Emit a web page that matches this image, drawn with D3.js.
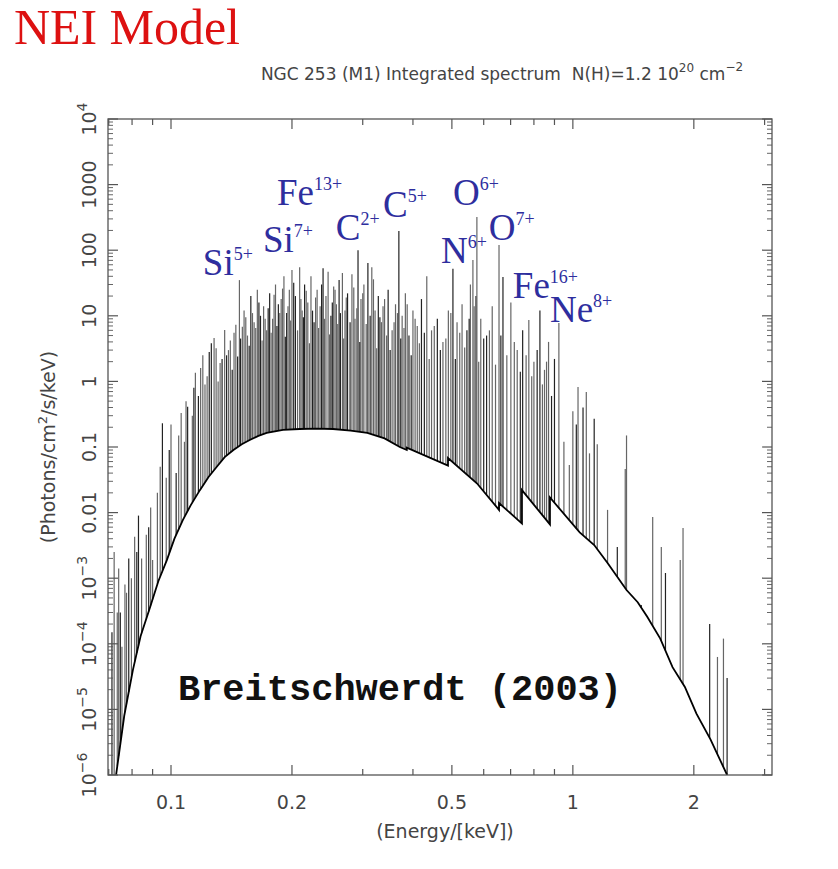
<!DOCTYPE html>
<html>
<head>
<meta charset="utf-8">
<script src="https://cdn.jsdelivr.net/npm/d3@7"></script>
<style>
  body { margin: 0; background: #fff; }
  svg text { font-family: "DejaVu Sans", sans-serif; }
</style>
</head>
<body>
<div id="chart"></div>
<script>
// Continuum (energy keV, flux); repeated energies are absorption edges
const contE = [0.0730, 0.0765, 0.0804, 0.0840, 0.0887, 0.0930, 0.0977, 0.102, 0.107, 0.112, 0.118, 0.124, 0.130, 0.136, 0.143, 0.150, 0.157, 0.165, 0.173, 0.190, 0.209, 0.230, 0.253, 0.280, 0.308, 0.340, 0.371, 0.386, 0.386, 0.489, 0.489, 0.577, 0.655, 0.655, 0.747, 0.747, 0.877, 0.877, 1.04, 1.13, 1.22, 1.36, 1.45, 1.53, 1.65, 1.77, 1.90, 2.03, 2.20, 2.42];
const contF = [1e-6, 8e-6, 4e-5, 1.3e-4, 3.6e-4, 9e-4, 1.9e-3, 4e-3, 7.7e-3, 0.013, 0.022, 0.035, 0.05, 0.07, 0.09, 0.11, 0.128, 0.148, 0.164, 0.183, 0.188, 0.19, 0.188, 0.178, 0.164, 0.135, 0.10, 0.090, 0.098, 0.052, 0.068, 0.028, 0.011, 0.014, 0.0068, 0.022, 0.0066, 0.017, 0.005, 0.0032, 0.0017, 6.6e-4, 4.3e-4, 2.6e-4, 1.2e-4, 4.4e-5, 2.2e-5, 8.6e-6, 3.5e-6, 1e-6];

// Emission lines: energy (keV) and peak flux
const lineE = [0.0713, 0.0722, 0.0741, 0.0748, 0.0755, 0.0768, 0.0785, 0.0797, 0.0812, 0.0830, 0.0845, 0.0868, 0.0880, 0.0900, 0.0925, 0.0952, 0.0973, 0.1000, 0.1030, 0.1060, 0.1080, 0.1100, 0.1130, 0.1150, 0.1170, 0.1200, 0.1230, 0.1260, 0.1280, 0.1310, 0.1340, 0.1360, 0.1390, 0.1420, 0.1450, 0.1480, 0.1490, 0.1520, 0.1550, 0.1580, 0.1610, 0.1640, 0.1670, 0.1700, 0.1730, 0.1760, 0.1790, 0.1820, 0.1850, 0.1880, 0.1910, 0.1940, 0.1970, 0.2000, 0.2040, 0.2090, 0.2120, 0.2150, 0.2190, 0.2230, 0.2270, 0.2310, 0.2350, 0.2390, 0.2430, 0.2460, 0.2500, 0.2540, 0.2580, 0.2620, 0.2670, 0.2710, 0.2750, 0.2820, 0.2870, 0.2920, 0.2970, 0.3020, 0.3090, 0.3160, 0.3220, 0.3280, 0.3340, 0.3400, 0.3470, 0.3550, 0.3620, 0.3690, 0.3760, 0.3830, 0.3910, 0.4000, 0.4100, 0.4200, 0.4330, 0.4450, 0.4600, 0.4750, 0.4900, 0.5030, 0.5150, 0.5300, 0.5450, 0.5560, 0.5640, 0.5740, 0.5770, 0.5900, 0.6100, 0.6300, 0.6550, 0.6700, 0.7010, 0.7270, 0.7500, 0.7770, 0.8000, 0.8280, 0.8500, 0.8700, 0.9000, 0.9230, 0.9800, 1.0200, 1.0300, 1.0800, 1.1300, 1.1500, 1.2200, 1.2900, 1.3500, 1.3600, 1.4800, 1.5800, 1.6600, 1.7000, 1.8500, 1.8800, 2.1900, 2.2900, 2.3700, 2.4200,
    0.0735, 0.0775, 0.0822, 0.0890, 0.0940, 0.0990, 0.1045, 0.1090, 0.1140, 0.1185, 0.1215, 0.1245, 0.1295, 0.1325, 0.1375, 0.1405, 0.1435, 0.1465, 0.1505, 0.1535, 0.1565, 0.1595, 0.1625, 0.1655, 0.1685, 0.1715, 0.1745, 0.1775, 0.1805, 0.1835, 0.1865, 0.1895, 0.1925, 0.1955, 0.1985, 0.2020, 0.2065, 0.2105, 0.2135, 0.2170, 0.2210, 0.2250, 0.2290, 0.2330, 0.2370, 0.2410, 0.2480, 0.2520, 0.2560, 0.2600, 0.2640, 0.2690, 0.2730, 0.2790, 0.2850, 0.2900, 0.2950, 0.3000, 0.3060, 0.3130, 0.3190, 0.3250, 0.3310, 0.3370, 0.3440, 0.3510, 0.3590, 0.3660, 0.3730, 0.3800, 0.3870, 0.3960, 0.4050, 0.4150, 0.4270, 0.4390, 0.4520, 0.4680, 0.4830, 0.4970, 0.5100, 0.5230, 0.5380, 0.5520, 0.5680, 0.5830, 0.6000, 0.6200, 0.6420, 0.6620, 0.6850, 0.7150, 0.7400, 0.7650, 0.7900, 0.8150, 0.8400, 0.8600, 0.8850, 0.9500, 1.0000, 1.0600, 1.1000];
const lineF = [1.5e-4, 2.5e-3, 1.4e-3, 3e-4, 9e-5, 8e-4, 2e-3, 1e-3, 4.3e-3, 9e-3, 2e-3, 4.6e-3, 6e-3, 1.9e-3, 0.02, 0.23, 0.034, 0.22, 0.04, 0.33, 0.12, 0.41, 0.3, 1.35, 0.6, 2.5, 1.2, 3.8, 4.6, 1.0, 2.2, 6.1, 3.0, 1.5, 7.3, 35, 4.5, 12, 5, 20, 8, 25, 10, 14, 6, 22, 9, 30, 15, 18, 40, 11, 25, 50, 20, 55, 12, 30, 16, 40, 8, 25, 14, 53, 20, 47, 10, 28, 15, 35, 45, 12, 22, 43, 9, 100, 18, 30, 64, 55, 12, 20, 8, 18, 25, 6, 15, 196, 10, 22, 5, 12, 7, 18, 40, 6, 9, 4, 12, 52, 8, 15, 6, 30, 71, 20, 320, 9, 5, 14, 120, 39, 16, 3, 6, 8.6, 2, 12, 1.5, 4, 2.2, 7.8, 0.053, 0.22, 0.82, 0.69, 0.27, 0.11, 0.011, 3e-3, 0.046, 0.15, 3.9e-4, 8.6e-3, 3e-3, 1.2e-3, 1.9e-3, 5.8e-3, 2e-4, 6.3e-5, 1.2e-4, 3e-5,
    3e-4, 6e-4, 2.5e-3, 0.012, 0.05, 0.09, 0.15, 0.5, 0.8, 1.6, 0.9, 2.8, 3.2, 1.9, 2.5, 4.2, 5.5, 2.4, 6.8, 9.5, 3.5, 11, 6.5, 16, 4.2, 9, 13, 5.5, 21, 7, 11, 26, 4.8, 14, 8.5, 32, 6, 18, 9.5, 24, 3.8, 12, 19, 6.5, 30, 9, 5.2, 16, 25, 7.5, 11, 4.5, 19, 8, 27, 13, 4, 22, 7.5, 10, 36, 3.2, 9.5, 14, 5, 3, 8, 11, 4.5, 6.5, 15, 2.5, 9, 3.8, 5.5, 2.2, 7, 3, 4.5, 11, 2.2, 5.5, 3.3, 9, 14, 2, 4.5, 6, 1.8, 5, 2.5, 4, 1.4, 2.5, 1.2, 3, 0.9, 2, 0.6, 0.12, 0.35, 0.4, 0.08];

const xTicks = [0.1, 0.2, 0.5, 1, 2];
const xTickLabels = ['0.1', '0.2', '0.5', '1', '2'];
const yTicks = [1e4, 1e3, 1e2, 10, 1, 0.1, 0.01, 1e-3, 1e-4, 1e-5, 1e-6];
const yTickLabels = ['10^4', '1000', '100', '10', '1', '0.1', '0.01', '10^-3', '10^-4', '10^-5', '10^-6'];

// Ion labels: text, charge, anchor position in data (energy, flux)
const ionNames = ['Si', 'Si', 'Fe', 'C', 'C', 'O', 'N', 'O', 'Fe', 'Ne'];
const ionCharges = ['5+', '7+', '13+', '2+', '5+', '6+', '6+', '7+', '16+', '8+'];
const ionE = [0.120, 0.1694, 0.1836, 0.257, 0.337, 0.503, 0.470, 0.618, 0.709, 0.877];
const ionF = [42, 94, 490, 143, 322, 490, 64, 143, 18.7, 8.0];

const width = 838, height = 869;
const margin = { top: 119, right: 66, bottom: 94, left: 108 };

const svg = d3.select('#chart').append('svg')
    .attr('width', width).attr('height', height);

const x = d3.scaleLog().domain([0.0697, 3.13]).range([margin.left, width - margin.right]);
const y = d3.scaleLog().domain([1e-6, 1e4]).range([height - margin.bottom, margin.top]);

svg.append('clipPath').attr('id', 'clip').append('rect')
    .attr('x', margin.left).attr('y', margin.top)
    .attr('width', width - margin.left - margin.right)
    .attr('height', height - margin.top - margin.bottom);

const cont = contE.map((e, i) => [e, contF[i]]);
const contAt = e => {
    // log-log interpolation along the read continuum, used only to find a line's base
    for (let i = 1; i < cont.length; i++) {
        if (e <= cont[i][0]) {
            const [e0, f0] = cont[i - 1], [e1, f1] = cont[i];
            if (e1 === e0) return f1;
            const t = (Math.log(e) - Math.log(e0)) / (Math.log(e1) - Math.log(e0));
            return Math.exp(Math.log(f0) + t * (Math.log(f1) - Math.log(f0)));
        }
    }
    return 1e-6;
};

const g = svg.append('g').attr('clip-path', 'url(#clip)');

g.selectAll('.line')
    .data(lineE.map((e, i) => ({ e, f: lineF[i] })))
    .enter().append('line')
    .attr('x1', d => x(d.e)).attr('x2', d => x(d.e))
    .attr('y1', d => y(Math.max(contAt(d.e), 1e-6)))
    .attr('y2', d => y(d.f))
    .attr('stroke', (d, i) => i % 3 === 0 ? '#222' : '#666')
    .attr('stroke-width', 1.2);

g.append('path')
    .datum(cont)
    .attr('fill', 'none')
    .attr('stroke', '#000')
    .attr('stroke-width', 1.8)
    .attr('d', d3.line().x(d => x(d[0])).y(d => y(d[1])));

// Frame
svg.append('rect')
    .attr('x', margin.left).attr('y', margin.top)
    .attr('width', width - margin.left - margin.right)
    .attr('height', height - margin.top - margin.bottom)
    .attr('fill', 'none').attr('stroke', '#555').attr('stroke-width', 1.3);

// X ticks (inward, bottom and top)
const xMinor = [0.07, 0.08, 0.09, 0.3, 0.4, 0.6, 0.7, 0.8, 0.9, 3];
const tickG = svg.append('g').attr('stroke', '#555').attr('stroke-width', 1.2);
const x0 = margin.left, x1 = width - margin.right, yb = height - margin.bottom, yt = margin.top;
xTicks.concat(xMinor).filter(v => v > 0.0697 && v < 3.13).forEach(v => {
    const len = xTicks.includes(v) ? 10 : 6;
    tickG.append('line').attr('x1', x(v)).attr('x2', x(v)).attr('y1', yb).attr('y2', yb - len);
    tickG.append('line').attr('x1', x(v)).attr('x2', x(v)).attr('y1', yt).attr('y2', yt + len);
});
svg.selectAll('.xl').data(xTicks).enter().append('text')
    .attr('x', d => x(d)).attr('y', yb + 34)
    .attr('text-anchor', 'middle').attr('font-size', 19).attr('fill', '#444')
    .text((d, i) => xTickLabels[i]);

// Y ticks (major + minor, left and right)
yTicks.forEach(v => {
    [x0, x1].forEach((xx, s) => {
        const dir = s === 0 ? 1 : -1;
        tickG.append('line').attr('x1', xx).attr('x2', xx + dir * 10).attr('y1', y(v)).attr('y2', y(v));
        if (v < 1e4) for (let k = 2; k <= 9; k++) {
            tickG.append('line').attr('x1', xx).attr('x2', xx + dir * 5)
                .attr('y1', y(v * k)).attr('y2', y(v * k)).attr('stroke-width', 0.9);
        }
    });
});
yTicks.forEach((v, i) => {
    const t = svg.append('text')
        .attr('transform', `translate(${x0 - 12},${y(v)}) rotate(-90)`)
        .attr('text-anchor', 'middle').attr('font-size', 19).attr('fill', '#444');
    const lab = yTickLabels[i];
    if (lab.includes('^')) {
        const [b, p] = lab.split('^');
        t.append('tspan').text(b);
        t.append('tspan').attr('dy', -9).attr('font-size', 14).text(p.replace('-', '\u2212'));
    } else t.text(lab);
});

// Axis titles
svg.append('text').attr('x', (x0 + x1) / 2 + 5).attr('y', 838)
    .attr('text-anchor', 'middle').attr('font-size', 19).attr('fill', '#444')
    .text('(Energy/[keV])');
const yt2 = svg.append('text')
    .attr('transform', `translate(55,${(yt + yb) / 2}) rotate(-90)`)
    .attr('text-anchor', 'middle').attr('font-size', 19).attr('fill', '#444');
yt2.append('tspan').text('(Photons/cm');
yt2.append('tspan').attr('dy', -8).attr('font-size', 13).text('2');
yt2.append('tspan').attr('dy', 8).text('/s/keV)');

// Title & subtitle
svg.append('text').attr('x', 14).attr('y', 44)
    .style('font-family', '"Liberation Serif", serif').attr('font-size', 50)
    .attr('fill', '#dd1111').attr('textLength', 226)
    .text('NEI Model');
const sub = svg.append('text').attr('x', 502).attr('y', 80)
    .attr('text-anchor', 'middle').attr('font-size', 17).attr('fill', '#444');
sub.append('tspan').text('NGC 253 (M1) Integrated spectrum\u00a0\u00a0N(H)=1.2 10');
sub.append('tspan').attr('dy', -8).attr('font-size', 12).text('20');
sub.append('tspan').attr('dy', 8).text(' cm');
sub.append('tspan').attr('dy', -9).attr('font-size', 12).text('\u22122');

// Ion labels
ionNames.forEach((n, i) => {
    const t = svg.append('text')
        .attr('x', x(ionE[i])).attr('y', y(ionF[i]))
        .style('font-family', '"Liberation Serif", serif')
        .attr('font-size', 37).attr('fill', '#2e2e9e');
    t.append('tspan').text(n);
    t.append('tspan').attr('dy', -15).attr('font-size', 18).text(ionCharges[i]);
});

svg.append('text').attr('x', 400).attr('y', 700)
    .attr('text-anchor', 'middle')
    .style('font-family', '"Liberation Mono", monospace')
    .attr('font-weight', 'bold').attr('font-size', 37).attr('fill', '#111')
    .text('Breitschwerdt (2003)');
</script>
</body>
</html>
